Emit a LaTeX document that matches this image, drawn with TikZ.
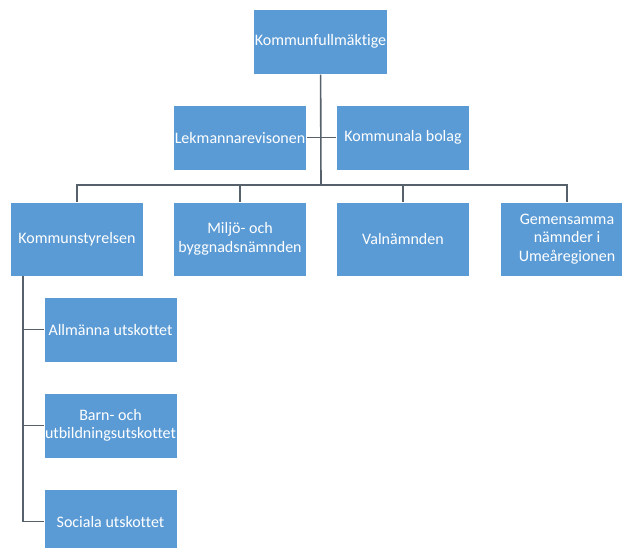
\documentclass[tikz,border=0pt]{standalone}
\usepackage{fontspec}
\setmainfont{Carlito}[Ligatures=NoCommon]
\usetikzlibrary{positioning}
\definecolor{boxblue}{HTML}{5B9BD5}
\definecolor{linegray}{HTML}{56616B}
\tikzset{
	orgbox/.style={fill=boxblue, draw=white, line width=1pt, text=white, align=center,
		minimum width=133pt, minimum height=65pt, inner sep=1pt, font=\fontsize{16}{18.5}\selectfont},
	tallbox/.style={orgbox, minimum height=74pt},
	link/.style={draw=linegray, line width=1.6pt}
}
\begin{document}
\begin{tikzpicture}[x=1pt,y=-1pt]

	\useasboundingbox (0,0) rectangle (622,547);
	\clip (0,0) rectangle (622,547);

	% top
	\node[orgbox, minimum width=131pt] (kf) at (320.5,41.5) {Kommunfullmäktige};

	% second row
	\node[orgbox] (lek)   at (240,137.5) {Lekmannarevisonen};
	\node[orgbox] (bolag) at (403,137.5) {Kommunala bolag};

	% third row
	\node[tallbox] (ks)    at (77,239)  {Kommunstyrelsen};
	\node[tallbox] (miljo) at (240,239) {Miljö- och\\byggnadsnämnden};
	\node[tallbox] (val)   at (403,239) {Valnämnden};
	\node[tallbox] (gem)   at (567,239) {Gemensamma\\nämnder i\\Umeåregionen};

	% utskotten
	\node[orgbox] (allm) at (110.5,329.5) {Allmänna utskottet};
	\node[orgbox] (barn) at (110.5,425.5) {Barn- och\\utbildningsutskottet};
	\node[orgbox] (soc)  at (110.5,521.5) {Sociala utskottet};

	% lines
	\coordinate (hub) at (321,185);
	\coordinate (kst) at (23,276);
	\draw[link] (kf) -- (hub);
	\draw[link] (lek) -- (bolag);
	\draw[link] (ks.north) |- (hub) -| (gem.north);
	\draw[link] (miljo.north) -- (miljo.north |- hub);
	\draw[link] (val.north) -- (val.north |- hub);
	\draw[link] (kst) |- (soc.west);
	\draw[link] (allm.west) -- (allm.west -| kst);
	\draw[link] (barn.west) -- (barn.west -| kst);

\end{tikzpicture}
\end{document}
